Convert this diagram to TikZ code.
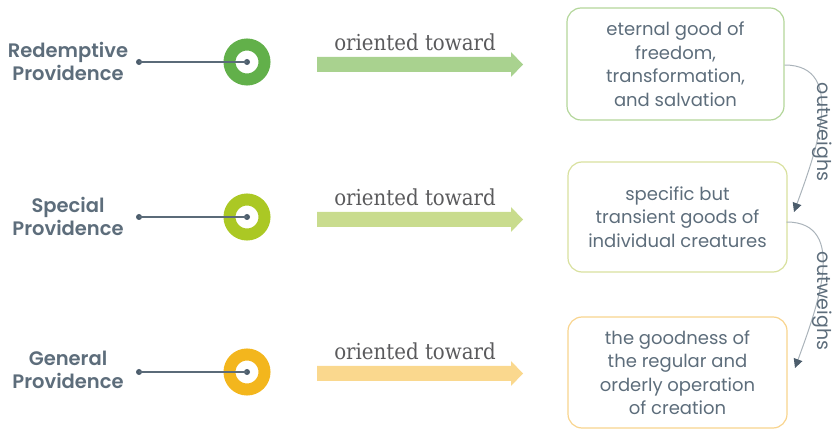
\documentclass[tikz,border=0pt]{standalone}
\usepackage{fontspec}
\setmainfont{Poppins}
\newfontfamily\labelfont{Poppins SemiBold}
\newfontfamily\slabfont{DejaVu Serif Condensed}
\usetikzlibrary{arrows.meta}
\definecolor{txt}{HTML}{5D6D7B}
\definecolor{slabc}{HTML}{5A5A5C}
\definecolor{linec}{HTML}{5B6B79}
\definecolor{dotc}{HTML}{4C5D6C}
\definecolor{ringA}{HTML}{62B04A}
\definecolor{ringB}{HTML}{ABC824}
\definecolor{ringC}{HTML}{F3B61D}
\definecolor{arrA}{HTML}{A9D28F}
\definecolor{arrB}{HTML}{C9DC8E}
\definecolor{arrC}{HTML}{FAD88E}
\definecolor{boxA}{HTML}{B3D69A}
\definecolor{boxB}{HTML}{D8E09E}
\definecolor{boxC}{HTML}{F8D48E}
\definecolor{curvec}{HTML}{AAB3BA}
\tikzset{
  lefttext/.style={text=txt, align=center, font=\labelfont\fontsize{19.5}{23}\selectfont, inner sep=0pt},
  ring/.style={circle, line width=12pt, minimum size=35pt, inner sep=0pt},
  dotn/.style={circle, fill=dotc, minimum size=6pt, inner sep=0pt},
  stem/.style={draw=linec, line width=1.3pt},
  slabtext/.style={text=slabc, font=\slabfont\fontsize{22}{24}\selectfont, inner sep=0pt},
  gbox/.style={rounded corners=14pt, line width=1.2pt, align=center, text=txt, font=\fontsize{18}{23.5}\selectfont, inner sep=0pt},
  conn/.style={draw=curvec, line width=1pt, -{Triangle[length=9pt,width=9pt,fill=dotc,color=dotc]}},
  outlab/.style={text=txt, font=\fontsize{19}{20}\selectfont, rotate=-90, inner sep=0pt}
}
\newcommand\fatarrow[3]{% colour, x, y (centre line)
  \fill[#1] (#2,#3-7.5) -- (#2+194,#3-7.5) -- (#2+194,#3-12.5) -- (#2+206,#3) -- (#2+194,#3+12.5) -- (#2+194,#3+7.5) -- (#2,#3+7.5) -- cycle;}
\begin{document}
\begin{tikzpicture}[x=1pt,y=-1pt]
\useasboundingbox (0,0) rectangle (836,430);

% left labels
\node[lefttext] (l1) at (68,61) {Redemptive\\Providence};
\node[lefttext] (l2) at (68,216) {Special\\Providence};
\node[lefttext] (l3) at (68,370) {General\\Providence};

% rings
\node[ring, draw=ringA] (r1) at (247,62) {};
\node[ring, draw=ringB] (r2) at (247,217) {};
\node[ring, draw=ringC] (r3) at (247,372) {};

% stems
\node[dotn] (d1) at (139,62) {};
\node[dotn] (d2) at (139,217) {};
\node[dotn] (d3) at (139,372) {};
\node[dotn] (c1) at (r1.center) {};
\node[dotn] (c2) at (r2.center) {};
\node[dotn] (c3) at (r3.center) {};
\draw[stem] (d1.center) -- (c1.center);
\draw[stem] (d2.center) -- (c2.center);
\draw[stem] (d3.center) -- (c3.center);

% arrows
\fatarrow{arrA}{317}{64.5}
\fatarrow{arrB}{317}{219.5}
\fatarrow{arrC}{317}{373.5}
\node[slabtext] (t1) at (415,42) {oriented toward};
\node[slabtext] (t2) at (415,197) {oriented toward};
\node[slabtext] (t3) at (415,351) {oriented toward};

% boxes
\node[gbox, draw=boxA, minimum width=217pt, minimum height=112pt] (b1) at (675.5,64) {eternal good of\\freedom,\\transformation,\\and salvation};
\node[gbox, draw=boxB, minimum width=219pt, minimum height=110pt] (b2) at (677.5,217) {specific but\\transient goods of\\individual creatures};
\node[gbox, draw=boxC, minimum width=219pt, minimum height=111pt] (b3) at (677.5,372.5) {the goodness of\\the regular and\\orderly operation\\of creation};

% outweighs connectors
\coordinate (s1) at (784.5,65);
\coordinate (e1) at (794,212);
\coordinate (s2) at (786.5,222);
\coordinate (e2) at (795,368);
\draw[conn] (s1) to[out=0,in=70,looseness=1.1] (e1);
\draw[conn] (s2) to[out=0,in=70,looseness=1.1] (e2);
\node[outlab] (o1) at (822,132) {outweighs};
\node[outlab] (o2) at (822,301) {outweighs};
\end{tikzpicture}
\end{document}
